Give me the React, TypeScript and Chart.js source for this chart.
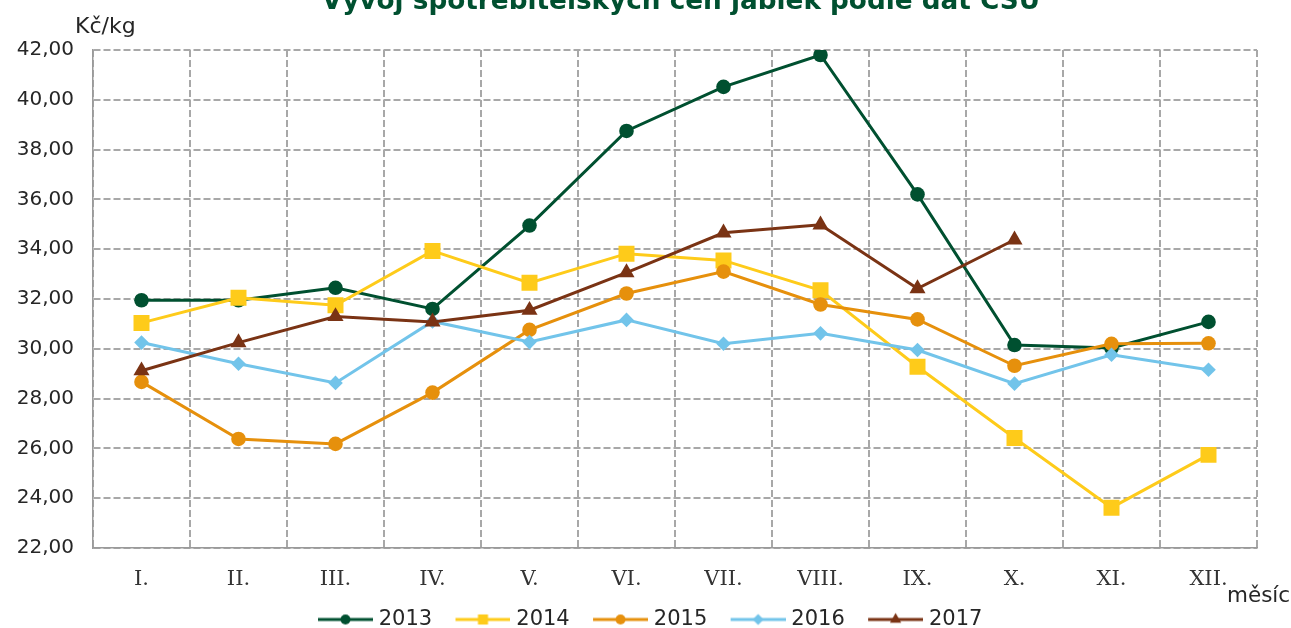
import React, { useEffect, useRef } from 'react';
import { Chart, registerables } from 'chart.js';

Chart.register(...registerables);

const titleText = 'Vývoj spotřebitelských cen jablek podle dat ČSÚ';
const yUnit = 'Kč/kg';
const xUnit = 'měsíc';

const months = ['I.', 'II.', 'III.', 'IV.', 'V.', 'VI.', 'VII.', 'VIII.', 'IX.', 'X.', 'XI.', 'XII.'];
const years = ['2013', '2014', '2015', '2016', '2017'];

const prices2013 = [31.95, 31.95, 32.45, 31.6, 34.95, 38.75, 40.52, 41.8, 36.2, 30.15, 30.03, 31.08];
const prices2014 = [31.04, 32.05, 31.75, 33.93, 32.65, 33.82, 33.55, 32.35, 29.28, 26.42, 23.62, 25.74];
const prices2015 = [28.67, 26.38, 26.18, 28.24, 30.76, 32.22, 33.1, 31.78, 31.18, 29.32, 30.2, 30.22];
const prices2016 = [30.25, 29.4, 28.63, 31.1, 30.27, 31.16, 30.2, 30.62, 29.95, 28.6, 29.76, 29.16];
const prices2017 = [29.12, 30.25, 31.3, 31.08, 31.55, 33.06, 34.66, 34.98, 32.42, 34.38, null, null];

const series = [prices2013, prices2014, prices2015, prices2016, prices2017];
const colors = ['#005030', '#fecb1a', '#e6900c', '#72c4ea', '#7a3314'];
const markers = ['circle', 'rect', 'circle', 'rectRot', 'triangle'];
const radii = [7.3, 11.3, 7.3, 7.3, 9.3];
const legendRadii = [5, 7, 5, 5.5, 6.5];

const yMin = 22;
const yMax = 42;
const yStep = 2;

const SANS = '"DejaVu Sans", Verdana, sans-serif';
const SERIF = '"DejaVu Serif", serif';

const LEG_BOX = 63.6;
const LEG_IMG_W = LEG_BOX + 9;
const LEG_LINE = 55;

function makeLegendImage(i: number): HTMLCanvasElement {
  const c = document.createElement('canvas');
  c.width = Math.round(LEG_IMG_W);
  c.height = 16;
  const ctx = c.getContext('2d')!;
  const x1 = c.width;
  const x0 = x1 - LEG_LINE;
  ctx.strokeStyle = colors[i];
  ctx.fillStyle = colors[i];
  ctx.lineWidth = 3;
  ctx.beginPath();
  ctx.moveTo(x0, 8);
  ctx.lineTo(x1, 8);
  ctx.stroke();
  const r = legendRadii[i];
  const cx = (x0 + x1) / 2;
  const cy = 8;
  ctx.beginPath();
  if (markers[i] === 'circle') {
    ctx.arc(cx, cy, r, 0, Math.PI * 2);
  } else if (markers[i] === 'rect') {
    ctx.rect(cx - r * 0.72, cy - r * 0.72, r * 1.44, r * 1.44);
  } else if (markers[i] === 'rectRot') {
    ctx.moveTo(cx, cy - r);
    ctx.lineTo(cx + r, cy);
    ctx.lineTo(cx, cy + r);
    ctx.lineTo(cx - r, cy);
    ctx.closePath();
  } else {
    ctx.moveTo(cx, cy - r);
    ctx.lineTo(cx + r * 0.866, cy + r * 0.5);
    ctx.lineTo(cx - r * 0.866, cy + r * 0.5);
    ctx.closePath();
  }
  ctx.fill();
  return c;
}

const textPlugin = {
  id: 'extraTexts',
  afterDraw(chart: any) {
    const { ctx, chartArea } = chart;
    ctx.save();
    ctx.textBaseline = 'alphabetic';
    ctx.fillStyle = '#005030';
    ctx.font = `bold 26.3px ${SANS}`;
    ctx.textAlign = 'center';
    ctx.fillText(titleText, 681, 9);
    ctx.fillStyle = '#262626';
    ctx.textAlign = 'left';
    ctx.font = `22px ${SANS}`;
    ctx.fillText(yUnit, chartArea.left - 18, chartArea.top - 17);
    ctx.font = `21.5px ${SANS}`;
    ctx.fillText(xUnit, chartArea.right - 30, chartArea.bottom + 54);
    ctx.restore();
  },
};

export default function App() {
  const ref = useRef<HTMLCanvasElement | null>(null);

  useEffect(() => {
    if (!ref.current) return;
    const images = years.map((_, i) => makeLegendImage(i));
    const chart = new Chart(ref.current, {
      type: 'line',
      data: {
        labels: months,
        datasets: years.map((y, i) => ({
          label: y,
          data: series[i],
          borderColor: colors[i],
          backgroundColor: colors[i],
          pointBackgroundColor: colors[i],
          pointBorderColor: colors[i],
          pointBorderWidth: 0,
          pointStyle: markers[i] as any,
          pointRadius: radii[i],
          pointHoverRadius: radii[i],
          borderWidth: 3,
          tension: 0,
          spanGaps: false,
          yAxisID: 'y',
          order: years.length - i,
        })),
      },
      options: {
        responsive: false,
        animation: false,
        devicePixelRatio: 1,
        layout: { padding: { top: 50, left: 8, right: 12, bottom: 0 } },
        plugins: {
          title: { display: false },
          tooltip: { enabled: false },
          legend: {
            display: true,
            position: 'bottom',
            labels: {
              usePointStyle: true,
              pointStyleWidth: LEG_BOX,
              padding: 10,
              color: '#262626',
              font: { family: SANS, size: 21 },
              sort: (a: any, b: any) => a.datasetIndex - b.datasetIndex,
              generateLabels: (ch: any) => {
                const items = (Chart.defaults.plugins.legend.labels as any).generateLabels(ch);
                return items.map((it: any) => ({ ...it, pointStyle: images[it.datasetIndex], lineWidth: 0 }));
              },
            },
          },
        },
        scales: {
          x: {
            type: 'category',
            offset: true,
            afterFit: (s: any) => { s.height = 51; },
            grid: {
              offset: true,
              color: '#a8a8a8',
              lineWidth: 2,
              drawTicks: false,
            },
            border: { display: true, color: '#9a9a9a', width: 1.5, dash: [7, 3] } as any,
            ticks: {
              padding: 19,
              color: '#333333',
              font: { family: SERIF, size: 21 },
            },
          },
          y: {
            position: 'left',
            min: yMin,
            max: yMax,
            afterFit: (s: any) => { s.width = 85; },
            grid: {
              color: '#a8a8a8',
              lineWidth: 2,
              drawTicks: false,
            },
            border: { display: true, color: '#9a9a9a', width: 1.5, dash: [7, 3] } as any,
            ticks: {
              stepSize: yStep,
              padding: 19,
              color: '#262626',
              font: { family: SANS, size: 20 },
              callback: (v: any) => Number(v).toFixed(2).replace('.', ','),
            },
          },
          yRight: {
            position: 'right',
            display: true,
            min: yMin,
            max: yMax,
            afterFit: (s: any) => { s.width = 22; },
            grid: { display: false, drawOnChartArea: false },
            border: { display: false },
            ticks: { display: false },
          },
        },
      },
      plugins: [textPlugin],
    });
    return () => chart.destroy();
  }, []);

  return (
    <div style={{ position: 'absolute', left: 0, top: 0, width: 1291, height: 628, overflow: 'hidden', background: '#ffffff' }}>
      <canvas ref={ref} width={1291} height={640} style={{ display: 'block' }} />
    </div>
  );
}
